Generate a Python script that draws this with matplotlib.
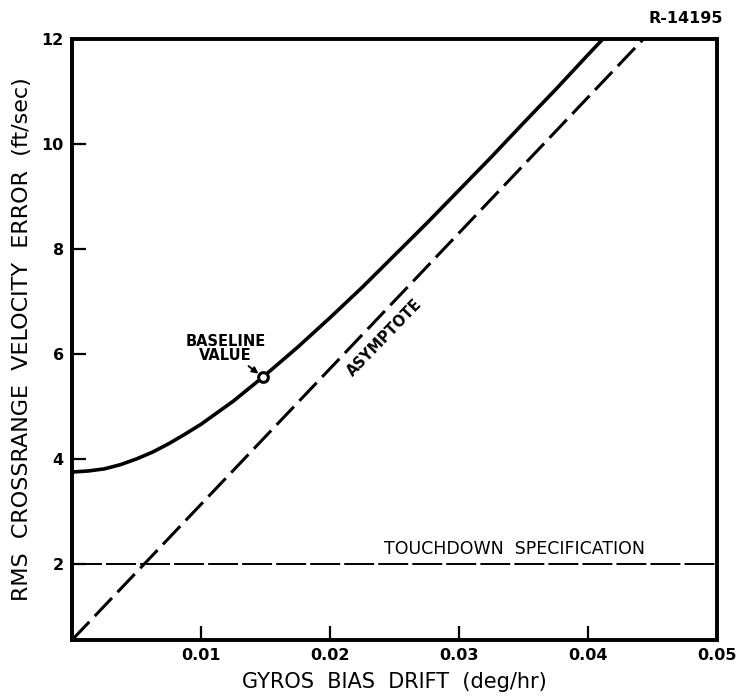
import matplotlib
matplotlib.use("Agg")
import matplotlib.pyplot as plt

# Data
drift = [0.0, 0.00125, 0.0025, 0.00375, 0.005, 0.00625, 0.0075, 0.00875, 0.01,
         0.01125, 0.0125, 0.0148, 0.0175, 0.02, 0.0225, 0.025, 0.0275,
         0.03, 0.0325, 0.035, 0.0375, 0.04, 0.0415]
rms_error = [3.75, 3.77, 3.81, 3.89, 4.00, 4.13, 4.29, 4.47, 4.66,
             4.88, 5.10, 5.56, 6.13, 6.69, 7.27, 7.88, 8.49,
             9.12, 9.75, 10.40, 11.04, 11.70, 12.09]
asym_x = [0.0, 0.0443]
asym_y = [0.55, 12.0]
spec_x = [0.0, 0.05]
spec_y = [2.0, 2.0]
baseline_x = 0.0148
baseline_y = 5.56
xticks = [0.01, 0.02, 0.03, 0.04, 0.05]
xticklabels = ["0.01", "0.02", "0.03", "0.04", "0.05"]
yticks = [2, 4, 6, 8, 10, 12]
yticklabels = ["2", "4", "6", "8", "10", "12"]

plt.rcParams['font.family'] = ['DejaVu Sans']

fig = plt.figure(figsize=(7.39, 6.98), dpi=100)
ax = fig.add_axes([72/739, 1-640/698, (717-72)/739, (640-39)/698])

ax.plot(drift, rms_error, color='black', lw=2.6, solid_capstyle='butt',
        solid_joinstyle='round')
ax.plot(asym_x, asym_y, color='black', lw=2.2, dashes=(8.2, 2.6))
ax.plot(spec_x, spec_y, color='black', lw=1.4, dashes=(15.4, 2.1))
ax.plot([baseline_x], [baseline_y], marker='o', ms=7, mfc='white', mec='black',
        mew=2.2, zorder=5)

ax.set_xlim(0, 0.05)
ax.set_ylim(0.55, 12)
ax.set_xticks(xticks)
ax.set_xticklabels(xticklabels)
ax.set_yticks(yticks)
ax.set_yticklabels(yticklabels)
ax.tick_params(direction='in', length=10, width=1.6, labelsize=11.5, pad=6)
for lab in ax.get_xticklabels() + ax.get_yticklabels():
    lab.set_fontweight('bold')
for s in ax.spines.values():
    s.set_linewidth(2.8)

ax.set_xlabel("GYROS  BIAS  DRIFT  (deg/hr)", fontsize=15, labelpad=6)
ax.set_ylabel("RMS  CROSSRANGE  VELOCITY  ERROR  (ft/sec)", fontsize=16,
              labelpad=7)

ax.annotate("BASELINE\nVALUE", xy=(baseline_x, baseline_y), xytext=(0.0119, 6.1),
            ha='center', va='center', fontsize=10.5, fontweight='bold',
            linespacing=0.95,
            arrowprops=dict(arrowstyle='-|>', color='black', lw=1.4,
                            shrinkA=14, shrinkB=4, mutation_scale=9))
ax.text(0.0242, 6.3, "ASYMPTOTE", rotation=46, rotation_mode='anchor',
        ha='center', va='center', fontsize=10.5, fontweight='bold')
ax.text(0.0343, 2.12, "TOUCHDOWN  SPECIFICATION", ha='center', va='bottom',
        fontsize=12.5)
fig.text(0.928, 0.973, "R-14195", ha='center', va='center', fontsize=11.5,
         fontweight='bold')

fig.savefig("out.png", dpi=100)
